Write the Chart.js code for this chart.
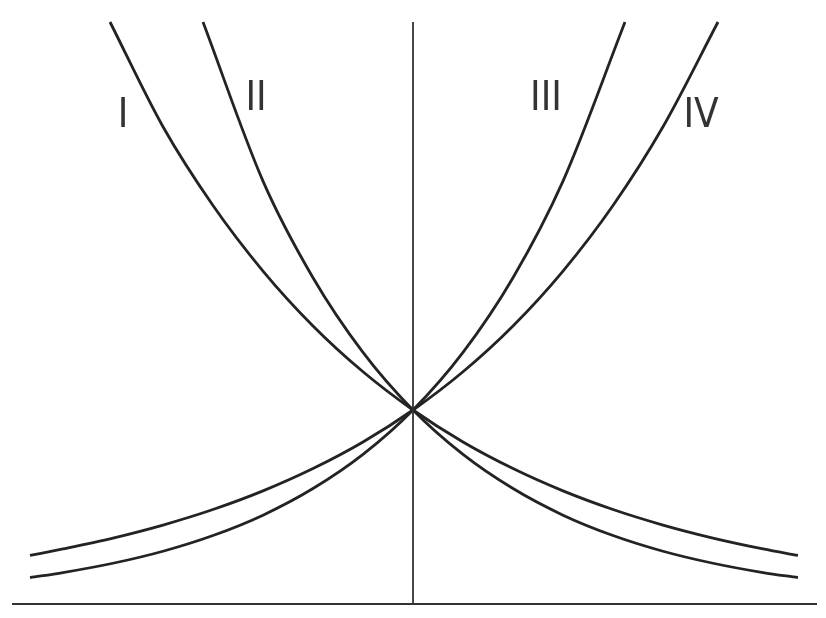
<!DOCTYPE html>
<html>
<head>
<meta charset="utf-8">
<title>Exponential curves I–IV</title>
<script src="https://cdn.jsdelivr.net/npm/chart.js@4.4.0/dist/chart.umd.min.js"></script>
<style>
  html, body { margin: 0; padding: 0; background: #fff; }
  canvas { display: block; }
</style>
</head>
<body>
<canvas id="curves" width="826" height="618"></canvas>
<script>
// values (x: horizontal units, y: height, 1 = crossing point)
const xsIV  = [-3.83, -3.5, -3, -2.5, -2, -1.5, -1, -0.5, 0, 0.5, 1, 1.5, 2, 2.5, 3.05];
const ysIV  = [0.25, 0.284, 0.34, 0.407, 0.487, 0.583, 0.698, 0.835, 1, 1.197, 1.433, 1.716, 2.054, 2.46, 3.0];

const xsIII = [-3.83, -3.5, -3, -2.5, -2, -1.5, -1, -0.5, 0, 0.5, 1, 1.5, 2.12];
const ysIII = [0.136, 0.162, 0.21, 0.272, 0.353, 0.458, 0.595, 0.771, 1, 1.297, 1.682, 2.18, 3.0];

const xsI   = [-3.03, -2.5, -2, -1.5, -1, -0.5, 0, 0.5, 1, 1.5, 2, 2.5, 3, 3.5, 3.85];
const ysI   = [3.0, 2.46, 2.054, 1.716, 1.433, 1.197, 1, 0.835, 0.698, 0.583, 0.487, 0.407, 0.34, 0.284, 0.25];

const xsII  = [-2.1, -1.5, -1, -0.5, 0, 0.5, 1, 1.5, 2, 2.5, 3, 3.5, 3.85];
const ysII  = [3.0, 2.18, 1.682, 1.297, 1, 0.771, 0.595, 0.458, 0.353, 0.272, 0.21, 0.162, 0.136];

const curveNames = ['I', 'II', 'III', 'IV'];

// axis lines
const xAxisX = [-4.01, 4.04];
const xAxisY = [0, 0];
const yAxisX = [0, 0];
const yAxisY = [0, 3.0];

const toPoints = (xs, ys) => xs.map((x, i) => ({ x: x, y: ys[i] }));

const INK = '#232323';

function curve(label, xs, ys) {
  return {
    label: label,
    data: toPoints(xs, ys),
    borderColor: INK,
    borderWidth: 2.8,
    pointRadius: 0,
    fill: false,
    cubicInterpolationMode: 'monotone'
  };
}

function axisLine(xs, ys) {
  return {
    label: 'axis',
    data: toPoints(xs, ys),
    borderColor: '#333',
    borderWidth: 1.8,
    pointRadius: 0,
    fill: false,
    tension: 0
  };
}

// where the roman numerals sit (data units)
const labelSpots = {
  I:   { x: -2.90, y: 2.51 },
  II:  { x: -1.57, y: 2.60 },
  III: { x: 1.33,  y: 2.60 },
  IV:  { x: 2.88,  y: 2.51 }
};

const curveLabels = {
  id: 'curveLabels',
  afterDatasetsDraw(chart) {
    const { ctx, scales } = chart;
    ctx.save();
    ctx.fillStyle = '#333';
    ctx.font = '40px "DejaVu Sans Condensed", "DejaVu Sans", sans-serif';
    ctx.textAlign = 'center';
    ctx.textBaseline = 'middle';
    curveNames.forEach(n => {
      const p = labelSpots[n];
      ctx.fillText(n, scales.x.getPixelForValue(p.x), scales.y.getPixelForValue(p.y));
    });
    ctx.restore();
  }
};

new Chart(document.getElementById('curves').getContext('2d'), {
  type: 'line',
  data: {
    datasets: [
      axisLine(xAxisX, xAxisY),
      axisLine(yAxisX, yAxisY),
      curve('I', xsI, ysI),
      curve('II', xsII, ysII),
      curve('III', xsIII, ysIII),
      curve('IV', xsIV, ysIV)
    ]
  },
  options: {
    responsive: false,
    animation: false,
    devicePixelRatio: 1,
    layout: { padding: 0 },
    plugins: {
      legend: { display: false },
      tooltip: { enabled: false }
    },
    scales: {
      x: { type: 'linear', min: -4.13, max: 4.13, display: false },
      y: { type: 'linear', min: -0.0722, max: 3.1134, display: false }
    }
  },
  plugins: [curveLabels]
});
</script>
</body>
</html>
